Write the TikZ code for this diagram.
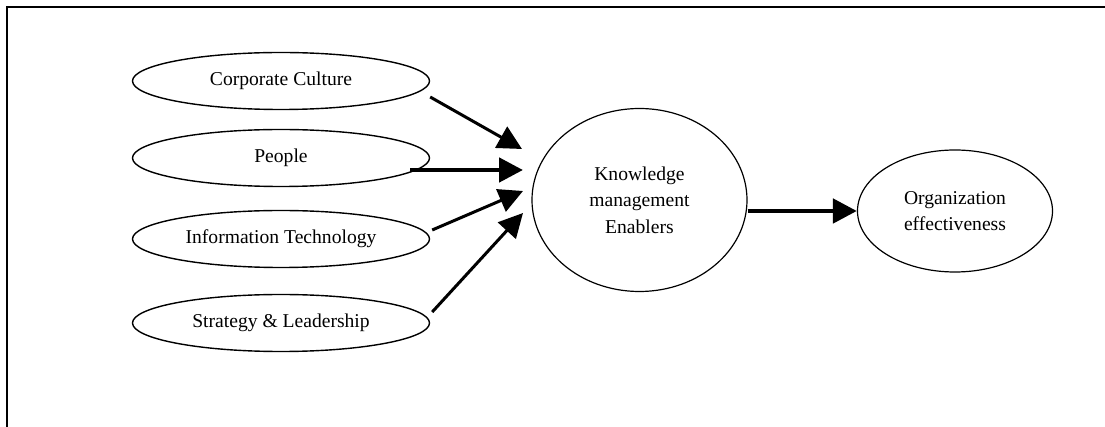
\documentclass[tikz,border=0pt]{standalone}
\usepackage{fontspec}
\setmainfont{Liberation Serif}
\usetikzlibrary{shapes.geometric,arrows.meta}

\tikzset{
  factor/.style={draw, ellipse, line width=0.7pt, inner sep=0pt,
    minimum width=148.5pt, minimum height=28.5pt},
  hub/.style={draw, ellipse, line width=0.6pt, inner sep=0pt, align=center}
}

\begin{document}
\begin{tikzpicture}[x=0.5pt, y=-0.5pt, >={Triangle[length=12pt,width=12pt]},
  font=\fontsize{9.8}{13.3}\selectfont]
\useasboundingbox (0,0) rectangle (1105,427);
\draw[line width=1pt] (7,427)--(7,7)--(1105,7);

\node[factor] (cc) at (281,81){Corporate Culture};
\node[factor] (pp) at (281,158){People};
\node[factor] (it) at (281,239){Information Technology};
\node[factor] (sl) at (281,323){Strategy \& Leadership};

\node[hub, minimum width=107.5pt, minimum height=91.5pt] (kme) at (639.5,200)
  {Knowledge\\management\\Enablers};
\node[hub, minimum width=97.5pt, minimum height=61pt] (org) at (955,211)
  {Organization\\effectiveness};

% arrow ends in front of the big circle
\coordinate (in1) at (522,149);
\coordinate (in2) at (523,170);
\coordinate (in3) at (523,191);
\coordinate (in4) at (523,213);

\draw[->, line width=1.5pt] ([yshift=-8pt]cc.east)--(in1);
\draw[->, line width=2.4pt] ([xshift=-10pt]pp.east |- in2)--(in2);
\draw[->, line width=1.5pt] ([shift={(1pt,4.5pt)}]it.east)--(in3);
\draw[->, line width=1.5pt] ([shift={(1pt,5.5pt)}]sl.east)--(in4);
\draw[->, line width=2.4pt] (kme.east |- org.west)--(org.west);

\end{tikzpicture}
\end{document}
